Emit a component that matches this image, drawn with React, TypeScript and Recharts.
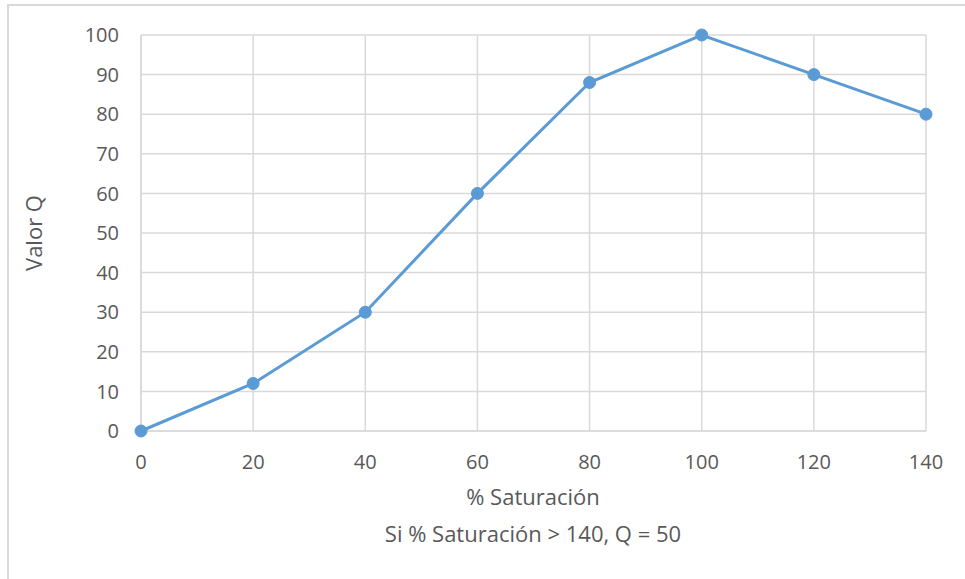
import { CartesianGrid, Line, LineChart, XAxis, YAxis } from 'recharts';

const saturation = [0, 20, 40, 60, 80, 100, 120, 140];
const qValues = [0, 12, 30, 60, 88, 100, 90, 80];
const xTicks = [0, 20, 40, 60, 80, 100, 120, 140];
const yTicks = [0, 10, 20, 30, 40, 50, 60, 70, 80, 90, 100];

const data = saturation.map((s, i) => ({ s, q: qValues[i] }));

const FONT = '"Open Sans", Lato, sans-serif';
const TEXT = '#595959';
const GRID = '#d9d9d9';
const BLUE = '#5b9bd5';

const tickStyle = { fontSize: 20, fill: TEXT, fontFamily: FONT };

const App = () => (
  <div
    style={{
      position: 'absolute',
      left: 0,
      top: 0,
      width: 965,
      height: 579,
      background: '#fff',
      fontFamily: FONT,
      color: TEXT,
      overflow: 'hidden',
    }}
  >
    <div
      style={{
        position: 'absolute',
        left: 7,
        top: 4,
        width: 970,
        height: 590,
        border: `2px solid ${GRID}`,
        boxSizing: 'border-box',
      }}
    />
    <div style={{ position: 'absolute', left: 0, top: 0 }}>
      <LineChart
        width={965}
        height={579}
        data={data}
        margin={{ top: 35, right: 39, bottom: 108, left: 81 }}
      >
        <CartesianGrid stroke={GRID} strokeWidth={1.5} />
        <XAxis
          dataKey="s"
          type="number"
          domain={[0, 140]}
          ticks={xTicks}
          stroke={GRID}
          strokeWidth={1.5}
          tickLine={false}
          tickSize={0}
          tickMargin={24}
          tick={tickStyle}
          height={40}
        />
        <YAxis
          type="number"
          domain={[0, 100]}
          ticks={yTicks}
          stroke={GRID}
          strokeWidth={1.5}
          tickLine={false}
          tickSize={0}
          tickMargin={22}
          tick={tickStyle}
          width={60}
        />
        <Line
          dataKey="q"
          type="linear"
          stroke={BLUE}
          strokeWidth={3}
          dot={{ r: 6, fill: BLUE, stroke: BLUE, strokeWidth: 1 }}
          isAnimationActive={false}
        />
      </LineChart>
    </div>
    <div
      style={{
        position: 'absolute',
        left: 233,
        width: 600,
        top: 478,
        textAlign: 'center',
        fontSize: 22,
        lineHeight: '37px',
      }}
    >
      <div>% Saturación</div>
      <div>Si % Saturación &gt; 140, Q = 50</div>
    </div>
    <div
      style={{
        position: 'absolute',
        left: 33,
        top: 233,
        transform: 'translate(-50%, -50%) rotate(-90deg)',
        fontSize: 22,
        whiteSpace: 'nowrap',
      }}
    >
      Valor Q
    </div>
  </div>
);

export default App;
